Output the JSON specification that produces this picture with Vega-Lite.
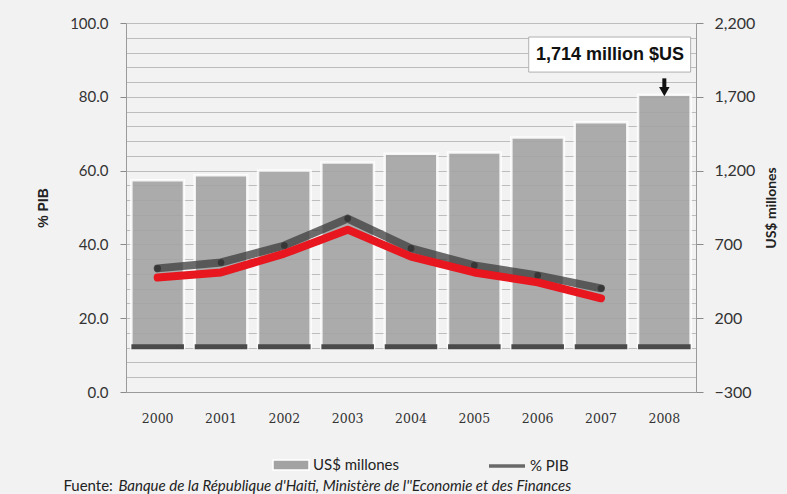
{
  "$schema": "https://vega.github.io/schema/vega-lite/v6.json",
  "width": 570,
  "height": 369,
  "autosize": {"type": "none"},
  "padding": {"left": 126, "top": 23, "right": 91, "bottom": 102},
  "background": "#f2f2f2",
  "config": {
    "view": {"stroke": null},
    "axis": {
      "labelFont": "Lato",
      "labelFontSize": 15,
      "labelColor": "#333333",
      "titleFont": "Liberation Sans",
      "titleFontSize": 14,
      "titleFontWeight": "bold",
      "titleColor": "#222222",
      "domainColor": "#9a9a9a",
      "tickColor": "#8a8a8a"
    }
  },
  "datasets": {
    "haiti": [
      {"year": "2000", "usd": 1135, "pib": 33.5, "pib_red": 31.0},
      {"year": "2001", "usd": 1168, "pib": 35.1, "pib_red": 32.4},
      {"year": "2002", "usd": 1200, "pib": 39.7, "pib_red": 37.5},
      {"year": "2003", "usd": 1255, "pib": 47.0, "pib_red": 44.0},
      {"year": "2004", "usd": 1315, "pib": 38.9, "pib_red": 36.7},
      {"year": "2005", "usd": 1322, "pib": 34.3, "pib_red": 32.4},
      {"year": "2006", "usd": 1425, "pib": 31.6, "pib_red": 29.7},
      {"year": "2007", "usd": 1527, "pib": 28.1, "pib_red": 25.4},
      {"year": "2008", "usd": 1714, "pib": null, "pib_red": null}
    ]
  },
  "data": {"name": "haiti"},
  "encoding": {
    "x": {
      "field": "year",
      "type": "nominal",
      "scale": {"paddingInner": 0.17, "paddingOuter": 0.085},
      "axis": {
        "title": null,
        "labelAngle": 0,
        "ticks": false,
        "labelPadding": 20,
        "labelFont": "DejaVu Serif",
        "labelFontSize": 12.5,
        "grid": false
      }
    }
  },
  "layer": [
    {
      "layer": [
        {
          "mark": {"type": "bar", "stroke": "#ffffff", "strokeWidth": 2.5, "strokeOpacity": 0.85, "fillOpacity": 0.9},
          "encoding": {
            "y": {
              "field": "usd",
              "type": "quantitative",
              "scale": {"domain": [-300, 2200], "nice": false, "zero": false},
              "axis": {
                "orient": "right",
                "values": [-300, 200, 700, 1200, 1700, 2200],
                "tickCount": 10,
                "format": ",.0f",
                "grid": false,
                "title": "US$ millones",
                "titleFont": "Lato",
                "titleAngle": 270,
                "labelFontSize": 16,
                "tickSize": 7,
                "labelPadding": 11,
                "titlePadding": 24
              }
            },
            "y2": {"datum": 0},
            "fill": {
              "datum": "US$ millones",
              "scale": {"range": ["#a3a3a3"]},
              "legend": {
                "orient": "none",
                "legendX": 146,
                "legendY": 423,
                "title": null,
                "padding": 0,
                "symbolType": "M-1,-0.28H1V0.28H-1Z",
                "symbolSize": 1296,
                "labelFont": "Lato",
                "labelFontSize": 15,
                "labelColor": "#222222",
                "labelOffset": 3
              }
            }
          }
        },
        {
          "mark": {"type": "bar", "color": "#4a4a4a"},
          "encoding": {
            "y": {"datum": 24},
            "y2": {"datum": -10}
          }
        }
      ]
    },
    {
      "layer": [
        {
          "mark": {"type": "line", "strokeWidth": 8, "opacity": 0.75, "strokeCap": "round"},
          "encoding": {
            "y": {
              "field": "pib",
              "type": "quantitative",
              "scale": {"domain": [0, 100], "nice": false},
              "axis": {
                "orient": "left",
                "values": [0, 4, 8, 12, 16, 20, 24, 28, 32, 36, 40, 44, 48, 52, 56, 60, 64, 68, 72, 76, 80, 84, 88, 92, 96, 100],
                "tickCount": 40,
                "labelExpr": "datum.value % 20 === 0 ? format(datum.value, '.1f') : ''",
                "labelOverlap": false,
                "tickOpacity": {"condition": {"test": "datum.value % 20 === 0", "value": 1}, "value": 0},
                "grid": true,
                "gridColor": "#bdbdbd",
                "title": "% PIB",
                "tickSize": 6,
                "labelPadding": 12,
                "titlePadding": 19
              }
            },
            "stroke": {
              "datum": "% PIB",
              "scale": {"range": ["#3c3c3c"]},
              "legend": {
                "orient": "none",
                "legendX": 361,
                "legendY": 423,
                "title": null,
                "padding": 0,
                "symbolType": "stroke",
                "symbolSize": 1296,
                "symbolStrokeWidth": 3.5,
                "labelFont": "Lato",
                "labelFontSize": 15,
                "labelColor": "#222222",
                "labelOffset": 3
              }
            }
          }
        },
        {
          "mark": {"type": "point", "filled": true, "size": 45, "color": "#222222", "opacity": 0.6},
          "encoding": {"y": {"field": "pib", "type": "quantitative"}}
        },
        {
          "mark": {"type": "line", "color": "#e8161e", "strokeWidth": 8, "strokeCap": "round", "strokeJoin": "round"},
          "encoding": {"y": {"field": "pib_red", "type": "quantitative"}}
        },
        {
          "data": {"values": [{"label": "1,714 million $US"}]},
          "mark": {"type": "rect", "fill": "#ffffff", "stroke": "#b0b0b0", "strokeWidth": 1},
          "encoding": {
            "x": {"datum": "2006", "bandPosition": 0.33},
            "x2": {"datum": "2008", "bandPosition": 1},
            "y": {"datum": 96.2},
            "y2": {"datum": 86.7}
          }
        },
        {
          "data": {"values": [{"label": "1,714 million $US"}]},
          "mark": {"type": "text", "font": "Liberation Sans", "fontWeight": "bold", "fontSize": 18, "color": "#111111", "align": "center", "baseline": "middle"},
          "encoding": {
            "x": {"datum": "2007", "bandPosition": 0.67},
            "y": {"datum": 91.3},
            "text": {"field": "label"}
          }
        },
        {
          "data": {"values": [{"label": "arrow"}]},
          "mark": {"type": "rule", "strokeWidth": 4, "color": "#111111"},
          "encoding": {
            "x": {"datum": "2008"},
            "y": {"datum": 85.0},
            "y2": {"datum": 82.4}
          }
        },
        {
          "data": {"values": [{"label": "arrow"}]},
          "mark": {"type": "point", "shape": "triangle-down", "filled": true, "size": 110, "color": "#111111", "opacity": 1},
          "encoding": {
            "x": {"datum": "2008"},
            "y": {"datum": 81.4}
          }
        },
        {
          "data": {"values": [{"t": "Fuente:"}]},
          "mark": {"type": "text", "font": "Lato", "fontSize": 15, "color": "#222222", "align": "left", "baseline": "alphabetic", "dx": -68},
          "encoding": {
            "x": {"datum": "2000", "bandPosition": 0},
            "y": {"datum": -26.9},
            "text": {"field": "t"}
          }
        },
        {
          "data": {"values": [{"t": "Banque de la République d'Haiti, Ministère de l''Economie et des Finances"}]},
          "mark": {"type": "text", "font": "Lato", "fontSize": 15, "fontStyle": "italic", "color": "#222222", "align": "left", "baseline": "alphabetic", "dx": -13},
          "encoding": {
            "x": {"datum": "2000", "bandPosition": 0},
            "y": {"datum": -26.9},
            "text": {"field": "t"}
          }
        }
      ]
    }
  ],
  "resolve": {"scale": {"y": "independent"}}
}
